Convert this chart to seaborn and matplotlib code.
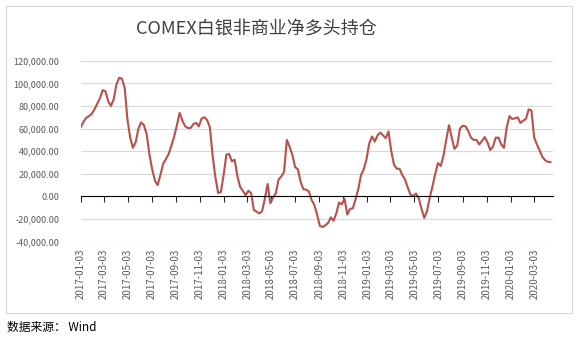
import matplotlib
matplotlib.use('Agg')
import matplotlib.pyplot as plt
import pandas as pd
import seaborn as sns
from matplotlib.patches import Rectangle
from matplotlib.ticker import FuncFormatter

# 周度数据（每周二），起始日期 2017-01-03
start_date = '2017-01-03'
seg_2017 = [61000, 66000, 69500, 71000, 73000, 77000, 82000, 87000, 94000, 93000,
            84000, 80000, 86000, 99000, 105000, 104000, 96000, 68000, 52000, 43000,
            48000, 60000, 65500, 63000, 55000, 37000, 24000, 14000, 10000, 19000,
            29000, 33000, 37500, 45000, 53000, 63000, 74000, 67000, 62000, 60500,
            60500, 64000, 65000, 62000, 69000, 70000, 67500, 61000, 36000, 17000,
            3000, 4000]
seg_2018 = [19000, 37000, 37500, 31000, 32500, 18000, 8500, 5000, 1000, 5000,
            3000, -12000, -13500, -15000, -13000, -2000, 11000, -6000, -1000, 3000,
            15000, 17700, 22000, 50000, 44000, 37000, 26000, 24000, 13000, 6500,
            6000, 4500, -3000, -7500, -16000, -26000, -27000, -25500, -23500, -18500,
            -21500, -15000, -5500, -7000, -2000, -16000, -11000, -10500, -2500, 6500,
            19000, 24000]
seg_2019 = [33000, 47000, 53000, 48500, 54000, 56500, 54000, 51500, 57500, 40000,
            28000, 24500, 24500, 19000, 15000, 8000, 1500, 500, 2500, -1500,
            -11000, -19000, -13000, -1000, 9000, 20000, 29500, 27000, 36000, 50000,
            63000, 52000, 42000, 45000, 60000, 62500, 62000, 58000, 52000, 50000,
            50000, 46000, 49000, 52500, 48000, 41000, 44000, 52000, 52000, 46000,
            43000, 61000]
seg_2020 = [71000, 68500, 69000, 70000, 65000, 67000, 68500, 77000, 76000, 52000,
            46000, 40500, 35000, 32000, 30500, 30500]

values = seg_2017 + seg_2018 + seg_2019 + seg_2020
df = pd.DataFrame({'date': pd.date_range(start_date, periods=len(values), freq='7D'),
                   'value': values})

sns.set_style('white')
plt.rcParams['font.family'] = ['Noto Sans CJK SC', 'DejaVu Sans']

fig = plt.figure(figsize=(5.82, 3.44), dpi=100)
ax = fig.add_axes([0.1387, 0.2974, 0.8115, 0.5261])
sns.lineplot(data=df, x='date', y='value', color='#B9504D', linewidth=1.5, ax=ax)

# y轴
ax.set_ylim(-40000, 120000)
ax.set_yticks(range(-40000, 120001, 20000))
ax.yaxis.set_major_formatter(FuncFormatter(lambda v, p: f'{v:,.2f}'))
ax.grid(axis='y', color='#D9D9D9', linewidth=0.8)
ax.set_axisbelow(True)

# x轴：每两个月一个刻度
ticks = pd.date_range('2017-01-03', '2020-03-03', freq=pd.DateOffset(months=2))
ax.set_xticks(ticks)
ax.set_xticklabels([t.strftime('%Y-%m-%d') for t in ticks])
ax.set_xlim(pd.Timestamp('2017-01-03'), pd.Timestamp('2020-04-20'))

for s in ['left', 'right', 'bottom']:
    ax.spines[s].set_visible(False)
ax.spines['top'].set_position(('data', 0))
ax.spines['top'].set_color('black')
ax.spines['top'].set_linewidth(0.8)

ax.tick_params(axis='x', bottom=False, top=True, direction='in', length=4,
               width=0.8, labelbottom=True, labeltop=False, labelsize=7,
               labelcolor='#595959', pad=5, labelrotation=90)
ax.tick_params(axis='y', left=False, labelsize=6.5, labelcolor='#595959', pad=12)
ax.set_xlabel('')
ax.set_ylabel('')

fig.text(0.44, 0.913, 'COMEX白银非商业净多头持仓', ha='center', va='center',
         fontsize=13, color='#404040')
fig.text(0.012, 0.049, '数据来源： Wind', ha='left', va='center', fontsize=8.5,
         color='black')
fig.add_artist(Rectangle((6 / 582, 1 - 313 / 344), 566 / 582, 307 / 344,
                         transform=fig.transFigure, fill=False,
                         edgecolor='#D9D9D9', linewidth=0.8))

fig.savefig('out.png', dpi=100)
